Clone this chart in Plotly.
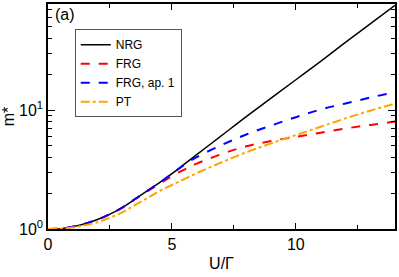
import plotly.graph_objects as go

U = [0, 0.5, 1, 1.5, 2, 2.5, 3, 3.5, 4, 4.5, 5, 5.5, 6, 7, 8, 9, 10, 11, 12, 13, 14]

m_nrg = [1.00, 1.007, 1.047, 1.109, 1.202, 1.334, 1.514, 1.778, 2.089, 2.455, 2.917,
         3.508, 4.217, 6.095, 8.810, 12.59, 17.99, 25.70, 37.15, 53.09, 75.86]
m_frg = [1.00, 1.007, 1.047, 1.109, 1.202, 1.334, 1.514, 1.778, 2.065, 2.399, 2.786,
         3.162, 3.548, 4.266, 4.955, 5.495, 5.957, 6.457, 6.998, 7.499, 8.00]
m_frg_ap1 = [1.00, 1.007, 1.047, 1.109, 1.202, 1.334, 1.514, 1.778, 2.089, 2.455, 2.917,
             3.467, 4.027, 5.070, 6.237, 7.413, 8.710, 10.12, 11.35, 12.74, 14.13]
m_pt = [1.00, 1.003, 1.030, 1.076, 1.140, 1.245, 1.380, 1.585, 1.820, 2.089, 2.344,
        2.630, 2.951, 3.631, 4.416, 5.248, 6.166, 7.244, 8.511, 9.886, 11.35]

names = ["NRG", "FRG", "FRG, ap. 1", "PT"]
series = [m_nrg, m_frg, m_frg_ap1, m_pt]
colors = ["#000000", "#ff0000", "#0000ff", "#ffa500"]
dashes = ["solid", "dash", "dash", "dashdot"]
widths = [1.5, 2, 2, 2]

y_minor = [2, 3, 4, 5, 6, 7, 8, 9, 20, 30, 40, 50, 60, 70]

fig = go.Figure()
for n, s, c, d, w in zip(names, series, colors, dashes, widths):
    fig.add_trace(go.Scatter(x=U, y=s, name=n, mode="lines",
                             line=dict(color=c, dash=d, width=w, shape="spline")))

font_family = "Liberation Sans, Arial, sans-serif"
fig.update_layout(
    width=399, height=277,
    margin=dict(l=48, r=4, t=2, b=48),
    plot_bgcolor="white", paper_bgcolor="white",
    font=dict(family=font_family, color="black", size=15),
    showlegend=True,
    legend=dict(x=0.077, y=0.888, xanchor="left", yanchor="top",
                bgcolor="white", bordercolor="#555555", borderwidth=1,
                font=dict(size=12, family=font_family), tracegroupgap=0,
                itemwidth=30),
    xaxis=dict(range=[0, 14], showgrid=False, zeroline=False,
               showline=True, linecolor="black", linewidth=1.5, mirror="ticks",
               ticks="inside", ticklen=6, tickcolor="black",
               tickvals=[0, 5, 10], ticktext=["0", "5", "10"],
               minor=dict(tickvals=[2.5, 7.5, 12.5], ticks="inside", ticklen=4, tickcolor="black"),
               title=dict(text="U/Γ", standoff=6, font=dict(size=16)),
               tickfont=dict(size=16)),
    yaxis=dict(type="log", range=[0, 1.892], showgrid=False, zeroline=False,
               showline=True, linecolor="black", linewidth=1.5, mirror="ticks",
               ticks="inside", ticklen=7, tickcolor="black",
               tickvals=[1, 10], ticktext=["10<sup>0</sup>", "10<sup>1</sup>"],
               minor=dict(tickvals=y_minor, ticks="inside", ticklen=4, tickcolor="black"),
               title=dict(text="m*", standoff=2, font=dict(size=16)),
               tickfont=dict(size=16)),
)
fig.add_annotation(x=0.015, y=1.0, xref="paper", yref="paper", text="(a)",
                   showarrow=False, xanchor="left", yanchor="top",
                   font=dict(size=16, family=font_family))

fig.write_html("out.html", config={"displayModeBar": False},
               post_script="document.body.style.margin='0';")
